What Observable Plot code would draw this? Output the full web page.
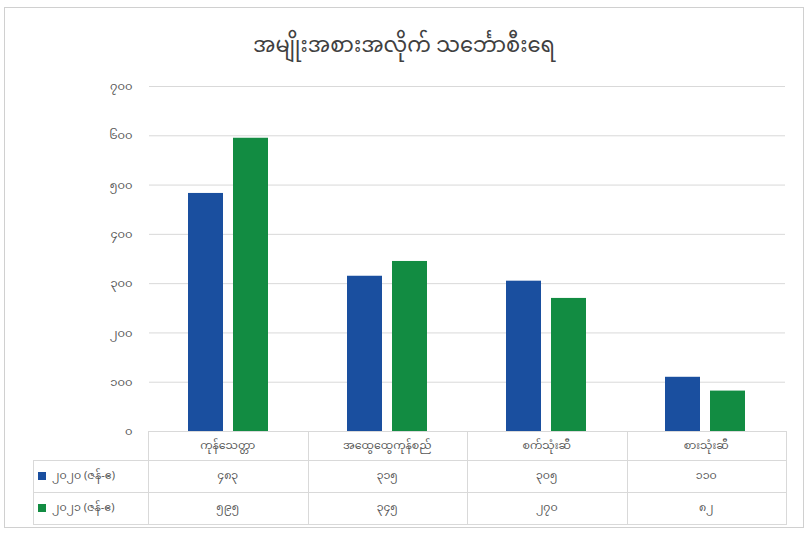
<!DOCTYPE html>
<html><head><meta charset="utf-8">
<script src="https://cdn.jsdelivr.net/npm/d3@7"></script>
<script src="https://cdn.jsdelivr.net/npm/@observablehq/plot@0.6"></script>
<style>
body{margin:0;background:#fff;font-family:"Noto Sans Myanmar","Padauk","Myanmar Text","Noto Sans",sans-serif;}
#wrap{position:relative;width:808px;height:533px;overflow:hidden;background:#fff;}
#frame{position:absolute;left:4px;top:7px;width:800px;height:521px;border:1px solid #d0d0d0;box-sizing:border-box;}
#title{position:absolute;left:0;width:808px;top:24px;text-align:center;font-size:21px;color:#404040;white-space:nowrap;}
#chart{position:absolute;left:0;top:60px;}
.cell{position:absolute;box-sizing:border-box;display:flex;align-items:center;justify-content:center;font-size:11px;color:#595959;white-space:nowrap;}
.line{position:absolute;background:#d9d9d9;}
.key{display:inline-block;width:8px;height:8px;margin-right:6px;}
</style></head>
<body><div id="wrap"><div id="frame"></div><div id="title"></div><div id="chart"></div><div id="table"></div></div>
<script>
const title = "အမျိုးအစားအလိုက် သင်္ဘောစီးရေ";
const categories = ["ကုန်သေတ္တာ", "အထွေထွေကုန်စည်", "စက်သုံးဆီ", "စားသုံးဆီ"];
const series = ["၂၀၂၀ (ဇန်-ဧ)", "၂၀၂၁ (ဇန်-ဧ)"];
const values2020 = [483, 315, 305, 110];
const values2021 = [595, 345, 270, 82];
const yTicks = [0, 100, 200, 300, 400, 500, 600, 700];
const colors = ["#1a4f9f", "#128c42"];

const myDigits = "၀၁၂၃၄၅၆၇၈၉";
const toMy = n => String(n).replace(/\d/g, d => myDigits[+d]);

document.getElementById("title").textContent = title;

const rows = categories.flatMap((c, i) => [
  {category: c, series: series[0], value: values2020[i]},
  {category: c, series: series[1], value: values2021[i]}
]);

const chart = Plot.plot({
  width: 808, height: 395,
  marginLeft: 148, marginRight: 22, marginTop: 26, marginBottom: 24,
  style: {fontSize: "11.5px", color: "#595959", background: "transparent", fontFamily: "inherit"},
  fx: {domain: categories, padding: 0, axis: null},
  x: {domain: series, axis: null, paddingInner: 0.217, paddingOuter: 0.848, align: 0.5},
  y: {domain: [0, 700], ticks: yTicks, tickFormat: toMy, tickSize: 0, tickPadding: 17, label: null},
  color: {domain: series, range: colors},
  marks: [
    Plot.ruleY(yTicks, {stroke: "#d9d9d9", strokeWidth: 1}),
    Plot.barY(rows, {fx: "category", x: "series", y: "value", fill: "series"})
  ]
});
document.getElementById("chart").appendChild(chart);

// data table
const tbl = document.getElementById("table");
const colX = [33, 148, 307.5, 467, 626.5, 786];
const rowY = [431, 460, 492, 524];
function add(cls, style) {
  const d = document.createElement("div");
  d.className = cls;
  Object.assign(d.style, style);
  tbl.appendChild(d);
  return d;
}
categories.forEach((c, i) => {
  const d = add("cell", {left: colX[i+1] + "px", top: rowY[0] + "px", width: (colX[i+2] - colX[i+1]) + "px", height: (rowY[1] - rowY[0]) + "px"});
  d.textContent = c;
});
const vals = [values2020, values2021];
series.forEach((s, r) => {
  const lab = add("cell", {left: colX[0] + "px", top: rowY[r+1] + "px", width: (colX[1] - colX[0]) + "px", height: (rowY[r+2] - rowY[r+1]) + "px", justifyContent: "flex-start", paddingLeft: "5px"});
  const k = document.createElement("span"); k.className = "key"; k.style.background = colors[r];
  lab.appendChild(k);
  lab.appendChild(document.createTextNode(s));
  vals[r].forEach((v, i) => {
    const d = add("cell", {left: colX[i+1] + "px", top: rowY[r+1] + "px", width: (colX[i+2] - colX[i+1]) + "px", height: (rowY[r+2] - rowY[r+1]) + "px"});
    d.textContent = toMy(v);
  });
});
add("line", {left: colX[1] + "px", top: rowY[0] + "px", width: (colX[5] - colX[1] + 1) + "px", height: "1px"});
[1, 2, 3].forEach(r => add("line", {left: colX[0] + "px", top: rowY[r] + "px", width: (colX[5] - colX[0] + 1) + "px", height: "1px"}));
add("line", {left: colX[0] + "px", top: rowY[1] + "px", width: "1px", height: (rowY[3] - rowY[1]) + "px"});
[1, 2, 3, 4, 5].forEach(c => add("line", {left: colX[c] + "px", top: rowY[0] + "px", width: "1px", height: (rowY[3] - rowY[0]) + "px"}));
</script>
</body></html>
